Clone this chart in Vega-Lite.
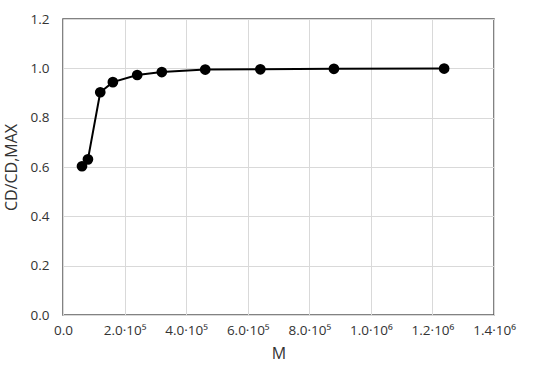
{
  "$schema": "https://vega.github.io/schema/vega-lite/v6.json",
  "width": 431,
  "height": 296,
  "autosize": {"type": "none"},
  "padding": {"left": 63, "top": 19, "right": 56, "bottom": 63},
  "background": "white",
  "config": {
    "font": "Open Sans",
    "view": {"stroke": "#595959", "strokeWidth": 1.5},
    "axis": {
      "grid": true,
      "gridColor": "#d9d9d9",
      "gridWidth": 1,
      "domain": false,
      "ticks": false,
      "labelFont": "Open Sans",
      "labelFontSize": 13.5,
      "labelColor": "#333333",
      "labelOverlap": false,
      "labelBound": false,
      "labelFlush": false,
      "titleFont": "Open Sans",
      "titleFontSize": 16,
      "titleFontWeight": "normal",
      "titleColor": "#333333"
    }
  },
  "data": {
    "values": [
      {"M": 61700, "r": 0.603},
      {"M": 81000, "r": 0.631},
      {"M": 121000, "r": 0.903},
      {"M": 162000, "r": 0.944},
      {"M": 241000, "r": 0.973},
      {"M": 321000, "r": 0.985},
      {"M": 462000, "r": 0.995},
      {"M": 641000, "r": 0.996},
      {"M": 880000, "r": 0.998},
      {"M": 1238000, "r": 0.999}
    ]
  },
  "encoding": {
    "x": {
      "field": "M",
      "type": "quantitative",
      "scale": {"domain": [0, 1400000], "nice": false, "zero": true},
      "axis": {
        "title": "M",
        "values": [0, 200000, 400000, 600000, 800000, 1000000, 1200000, 1400000],
        "labelPadding": 8,
        "titlePadding": 9,
        "labelExpr": "datum.value == 0 ? '0.0' : (datum.value < 1000000 ? format(datum.value/100000, '.1f') + '·10⁵' : format(datum.value/1000000, '.1f') + '·10⁶')"
      }
    },
    "y": {
      "field": "r",
      "type": "quantitative",
      "scale": {"domain": [0, 1.2], "nice": false},
      "axis": {
        "title": "CD/CD,MAX",
        "values": [0, 0.2, 0.4, 0.6, 0.8, 1.0, 1.2],
        "format": ".1f",
        "labelPadding": 14,
        "titlePadding": 11
      }
    }
  },
  "layer": [
    {"mark": {"type": "line", "color": "black", "strokeWidth": 2}},
    {"mark": {"type": "point", "filled": true, "color": "black", "opacity": 1, "size": 115}}
  ]
}
